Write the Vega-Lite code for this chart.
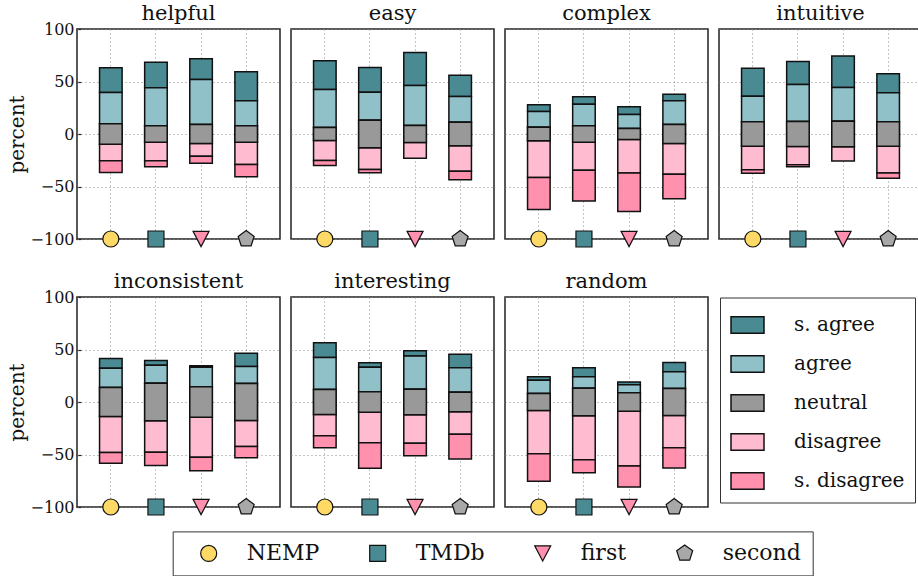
{
  "$schema": "https://vega.github.io/schema/vega-lite/v6.json",
  "padding": {"left": 7, "top": 2, "right": 0, "bottom": 0},
  "config": {
    "font": "DejaVu Serif",
    "view": {"stroke": "#222", "strokeWidth": 1.5},
    "axisY": {
      "values": [-100, -50, 0, 50, 100],
      "labelFontSize": 16, "labelColor": "#111", "labelPadding": 7,
      "ticks": true, "tickSize": -5, "tickColor": "#222", "tickWidth": 1.2,
      "domain": false, "grid": true, "gridDash": [1, 3], "gridColor": "#888",
      "titleFontSize": 20, "titleFontWeight": "normal", "titleColor": "#111", "titlePadding": 3
    },
    "axisX": {
      "labels": false, "ticks": false, "domain": false, "title": null,
      "grid": true, "gridDash": [1, 3], "gridColor": "#888", "bandPosition": 0.5
    },
    "header": {"labelFontSize": 21, "labelColor": "#111", "labelPadding": 5, "title": null}
  },
  "data": {"values": [
    {"panel":"helpful","source":"NEMP","response":"s. agree","value":23.5,"rank":2},
    {"panel":"helpful","source":"NEMP","response":"agree","value":29.8,"rank":1},
    {"panel":"helpful","source":"NEMP","response":"neutral","value":9.7,"rank":0},
    {"panel":"helpful","source":"NEMP","response":"neutral","value":-9.7,"rank":0},
    {"panel":"helpful","source":"NEMP","response":"disagree","value":-15.8,"rank":1},
    {"panel":"helpful","source":"NEMP","response":"s. disagree","value":-11.1,"rank":2},
    {"panel":"helpful","source":"TMDb","response":"s. agree","value":24.4,"rank":2},
    {"panel":"helpful","source":"TMDb","response":"agree","value":36.2,"rank":1},
    {"panel":"helpful","source":"TMDb","response":"neutral","value":7.8,"rank":0},
    {"panel":"helpful","source":"TMDb","response":"neutral","value":-7.8,"rank":0},
    {"panel":"helpful","source":"TMDb","response":"disagree","value":-17.7,"rank":1},
    {"panel":"helpful","source":"TMDb","response":"s. disagree","value":-5.7,"rank":2},
    {"panel":"helpful","source":"first","response":"s. agree","value":19.7,"rank":2},
    {"panel":"helpful","source":"first","response":"agree","value":42.8,"rank":1},
    {"panel":"helpful","source":"first","response":"neutral","value":9.05,"rank":0},
    {"panel":"helpful","source":"first","response":"neutral","value":-9.05,"rank":0},
    {"panel":"helpful","source":"first","response":"disagree","value":-12.1,"rank":1},
    {"panel":"helpful","source":"first","response":"s. disagree","value":-6.7,"rank":2},
    {"panel":"helpful","source":"second","response":"s. agree","value":27.6,"rank":2},
    {"panel":"helpful","source":"second","response":"agree","value":23.8,"rank":1},
    {"panel":"helpful","source":"second","response":"neutral","value":7.95,"rank":0},
    {"panel":"helpful","source":"second","response":"neutral","value":-7.95,"rank":0},
    {"panel":"helpful","source":"second","response":"disagree","value":-21.2,"rank":1},
    {"panel":"helpful","source":"second","response":"s. disagree","value":-11.5,"rank":2},

    {"panel":"easy","source":"NEMP","response":"s. agree","value":27.3,"rank":2},
    {"panel":"easy","source":"NEMP","response":"agree","value":36.2,"rank":1},
    {"panel":"easy","source":"NEMP","response":"neutral","value":6.15,"rank":0},
    {"panel":"easy","source":"NEMP","response":"neutral","value":-6.15,"rank":0},
    {"panel":"easy","source":"NEMP","response":"disagree","value":-19.1,"rank":1},
    {"panel":"easy","source":"NEMP","response":"s. disagree","value":-4.8,"rank":2},
    {"panel":"easy","source":"TMDb","response":"s. agree","value":23.5,"rank":2},
    {"panel":"easy","source":"TMDb","response":"agree","value":26.7,"rank":1},
    {"panel":"easy","source":"TMDb","response":"neutral","value":13.15,"rank":0},
    {"panel":"easy","source":"TMDb","response":"neutral","value":-13.15,"rank":0},
    {"panel":"easy","source":"TMDb","response":"disagree","value":-20.7,"rank":1},
    {"panel":"easy","source":"TMDb","response":"s. disagree","value":-3.1,"rank":2},
    {"panel":"easy","source":"first","response":"s. agree","value":31.5,"rank":2},
    {"panel":"easy","source":"first","response":"agree","value":38.1,"rank":1},
    {"panel":"easy","source":"first","response":"neutral","value":8.1,"rank":0},
    {"panel":"easy","source":"first","response":"neutral","value":-8.1,"rank":0},
    {"panel":"easy","source":"first","response":"disagree","value":-14.9,"rank":1},
    {"panel":"easy","source":"second","response":"s. agree","value":20.4,"rank":2},
    {"panel":"easy","source":"second","response":"agree","value":24.4,"rank":1},
    {"panel":"easy","source":"second","response":"neutral","value":11.25,"rank":0},
    {"panel":"easy","source":"second","response":"neutral","value":-11.25,"rank":0},
    {"panel":"easy","source":"second","response":"disagree","value":-24.2,"rank":1},
    {"panel":"easy","source":"second","response":"s. disagree","value":-8.2,"rank":2},

    {"panel":"complex","source":"NEMP","response":"s. agree","value":6.3,"rank":2},
    {"panel":"complex","source":"NEMP","response":"agree","value":15.0,"rank":1},
    {"panel":"complex","source":"NEMP","response":"neutral","value":6.5,"rank":0},
    {"panel":"complex","source":"NEMP","response":"neutral","value":-6.5,"rank":0},
    {"panel":"complex","source":"NEMP","response":"disagree","value":-34.9,"rank":1},
    {"panel":"complex","source":"NEMP","response":"s. disagree","value":-30.5,"rank":2},
    {"panel":"complex","source":"TMDb","response":"s. agree","value":7.3,"rank":2},
    {"panel":"complex","source":"TMDb","response":"agree","value":20.3,"rank":1},
    {"panel":"complex","source":"TMDb","response":"neutral","value":7.95,"rank":0},
    {"panel":"complex","source":"TMDb","response":"neutral","value":-7.95,"rank":0},
    {"panel":"complex","source":"TMDb","response":"disagree","value":-26.6,"rank":1},
    {"panel":"complex","source":"TMDb","response":"s. disagree","value":-29.2,"rank":2},
    {"panel":"complex","source":"first","response":"s. agree","value":7.3,"rank":2},
    {"panel":"complex","source":"first","response":"agree","value":13.3,"rank":1},
    {"panel":"complex","source":"first","response":"neutral","value":5.25,"rank":0},
    {"panel":"complex","source":"first","response":"neutral","value":-5.25,"rank":0},
    {"panel":"complex","source":"first","response":"disagree","value":-31.8,"rank":1},
    {"panel":"complex","source":"first","response":"s. disagree","value":-36.8,"rank":2},
    {"panel":"complex","source":"second","response":"s. agree","value":6.4,"rank":2},
    {"panel":"complex","source":"second","response":"agree","value":22.5,"rank":1},
    {"panel":"complex","source":"second","response":"neutral","value":9.05,"rank":0},
    {"panel":"complex","source":"second","response":"neutral","value":-9.05,"rank":0},
    {"panel":"complex","source":"second","response":"disagree","value":-29.2,"rank":1},
    {"panel":"complex","source":"second","response":"s. disagree","value":-23.5,"rank":2},

    {"panel":"intuitive","source":"NEMP","response":"s. agree","value":26.6,"rank":2},
    {"panel":"intuitive","source":"NEMP","response":"agree","value":24.5,"rank":1},
    {"panel":"intuitive","source":"NEMP","response":"neutral","value":11.55,"rank":0},
    {"panel":"intuitive","source":"NEMP","response":"neutral","value":-11.55,"rank":0},
    {"panel":"intuitive","source":"NEMP","response":"disagree","value":-22.6,"rank":1},
    {"panel":"intuitive","source":"NEMP","response":"s. disagree","value":-3.2,"rank":2},
    {"panel":"intuitive","source":"TMDb","response":"s. agree","value":21.9,"rank":2},
    {"panel":"intuitive","source":"TMDb","response":"agree","value":35.3,"rank":1},
    {"panel":"intuitive","source":"TMDb","response":"neutral","value":11.9,"rank":0},
    {"panel":"intuitive","source":"TMDb","response":"neutral","value":-11.9,"rank":0},
    {"panel":"intuitive","source":"TMDb","response":"disagree","value":-17.4,"rank":1},
    {"panel":"intuitive","source":"TMDb","response":"s. disagree","value":-1.9,"rank":2},
    {"panel":"intuitive","source":"first","response":"s. agree","value":29.9,"rank":2},
    {"panel":"intuitive","source":"first","response":"agree","value":32.1,"rank":1},
    {"panel":"intuitive","source":"first","response":"neutral","value":12.2,"rank":0},
    {"panel":"intuitive","source":"first","response":"neutral","value":-12.2,"rank":0},
    {"panel":"intuitive","source":"first","response":"disagree","value":-13.6,"rank":1},
    {"panel":"intuitive","source":"second","response":"s. agree","value":18.1,"rank":2},
    {"panel":"intuitive","source":"second","response":"agree","value":27.6,"rank":1},
    {"panel":"intuitive","source":"second","response":"neutral","value":11.75,"rank":0},
    {"panel":"intuitive","source":"second","response":"neutral","value":-11.75,"rank":0},
    {"panel":"intuitive","source":"second","response":"disagree","value":-25.4,"rank":1},
    {"panel":"intuitive","source":"second","response":"s. disagree","value":-5.0,"rank":2},

    {"panel":"inconsistent","source":"NEMP","response":"s. agree","value":9.2,"rank":2},
    {"panel":"inconsistent","source":"NEMP","response":"agree","value":18.4,"rank":1},
    {"panel":"inconsistent","source":"NEMP","response":"neutral","value":13.85,"rank":0},
    {"panel":"inconsistent","source":"NEMP","response":"neutral","value":-13.85,"rank":0},
    {"panel":"inconsistent","source":"NEMP","response":"disagree","value":-34.3,"rank":1},
    {"panel":"inconsistent","source":"NEMP","response":"s. disagree","value":-10.1,"rank":2},
    {"panel":"inconsistent","source":"TMDb","response":"s. agree","value":4.4,"rank":2},
    {"panel":"inconsistent","source":"TMDb","response":"agree","value":17.1,"rank":1},
    {"panel":"inconsistent","source":"TMDb","response":"neutral","value":17.95,"rank":0},
    {"panel":"inconsistent","source":"TMDb","response":"neutral","value":-17.95,"rank":0},
    {"panel":"inconsistent","source":"TMDb","response":"disagree","value":-29.9,"rank":1},
    {"panel":"inconsistent","source":"TMDb","response":"s. disagree","value":-12.7,"rank":2},
    {"panel":"inconsistent","source":"first","response":"s. agree","value":1.6,"rank":2},
    {"panel":"inconsistent","source":"first","response":"agree","value":18.4,"rank":1},
    {"panel":"inconsistent","source":"first","response":"neutral","value":14.6,"rank":0},
    {"panel":"inconsistent","source":"first","response":"neutral","value":-14.6,"rank":0},
    {"panel":"inconsistent","source":"first","response":"disagree","value":-38.0,"rank":1},
    {"panel":"inconsistent","source":"first","response":"s. disagree","value":-12.8,"rank":2},
    {"panel":"inconsistent","source":"second","response":"s. agree","value":12.7,"rank":2},
    {"panel":"inconsistent","source":"second","response":"agree","value":16.2,"rank":1},
    {"panel":"inconsistent","source":"second","response":"neutral","value":17.6,"rank":0},
    {"panel":"inconsistent","source":"second","response":"neutral","value":-17.6,"rank":0},
    {"panel":"inconsistent","source":"second","response":"disagree","value":-24.8,"rank":1},
    {"panel":"inconsistent","source":"second","response":"s. disagree","value":-10.8,"rank":2},

    {"panel":"interesting","source":"NEMP","response":"s. agree","value":14.0,"rank":2},
    {"panel":"interesting","source":"NEMP","response":"agree","value":30.5,"rank":1},
    {"panel":"interesting","source":"NEMP","response":"neutral","value":11.9,"rank":0},
    {"panel":"interesting","source":"NEMP","response":"neutral","value":-11.9,"rank":0},
    {"panel":"interesting","source":"NEMP","response":"disagree","value":-20.3,"rank":1},
    {"panel":"interesting","source":"NEMP","response":"s. disagree","value":-11.4,"rank":2},
    {"panel":"interesting","source":"TMDb","response":"s. agree","value":4.1,"rank":2},
    {"panel":"interesting","source":"TMDb","response":"agree","value":23.5,"rank":1},
    {"panel":"interesting","source":"TMDb","response":"neutral","value":9.7,"rank":0},
    {"panel":"interesting","source":"TMDb","response":"neutral","value":-9.7,"rank":0},
    {"panel":"interesting","source":"TMDb","response":"disagree","value":-29.2,"rank":1},
    {"panel":"interesting","source":"TMDb","response":"s. disagree","value":-24.1,"rank":2},
    {"panel":"interesting","source":"first","response":"s. agree","value":5.1,"rank":2},
    {"panel":"interesting","source":"first","response":"agree","value":31.5,"rank":1},
    {"panel":"interesting","source":"first","response":"neutral","value":12.2,"rank":0},
    {"panel":"interesting","source":"first","response":"neutral","value":-12.2,"rank":0},
    {"panel":"interesting","source":"first","response":"disagree","value":-27.0,"rank":1},
    {"panel":"interesting","source":"first","response":"s. disagree","value":-12.0,"rank":2},
    {"panel":"interesting","source":"second","response":"s. agree","value":12.7,"rank":2},
    {"panel":"interesting","source":"second","response":"agree","value":23.5,"rank":1},
    {"panel":"interesting","source":"second","response":"neutral","value":9.2,"rank":0},
    {"panel":"interesting","source":"second","response":"neutral","value":-9.2,"rank":0},
    {"panel":"interesting","source":"second","response":"disagree","value":-21.6,"rank":1},
    {"panel":"interesting","source":"second","response":"s. disagree","value":-23.5,"rank":2},

    {"panel":"random","source":"NEMP","response":"s. agree","value":3.2,"rank":2},
    {"panel":"random","source":"NEMP","response":"agree","value":12.7,"rank":1},
    {"panel":"random","source":"NEMP","response":"neutral","value":8.1,"rank":0},
    {"panel":"random","source":"NEMP","response":"neutral","value":-8.1,"rank":0},
    {"panel":"random","source":"NEMP","response":"disagree","value":-41.2,"rank":1},
    {"panel":"random","source":"NEMP","response":"s. disagree","value":-26.1,"rank":2},
    {"panel":"random","source":"TMDb","response":"s. agree","value":8.6,"rank":2},
    {"panel":"random","source":"TMDb","response":"agree","value":11.1,"rank":1},
    {"panel":"random","source":"TMDb","response":"neutral","value":13.0,"rank":0},
    {"panel":"random","source":"TMDb","response":"neutral","value":-13.0,"rank":0},
    {"panel":"random","source":"TMDb","response":"disagree","value":-41.9,"rank":1},
    {"panel":"random","source":"TMDb","response":"s. disagree","value":-12.4,"rank":2},
    {"panel":"random","source":"first","response":"s. agree","value":2.8,"rank":2},
    {"panel":"random","source":"first","response":"agree","value":7.6,"rank":1},
    {"panel":"random","source":"first","response":"neutral","value":8.75,"rank":0},
    {"panel":"random","source":"first","response":"neutral","value":-8.75,"rank":0},
    {"panel":"random","source":"first","response":"disagree","value":-52.1,"rank":1},
    {"panel":"random","source":"first","response":"s. disagree","value":-20.0,"rank":2},
    {"panel":"random","source":"second","response":"s. agree","value":8.8,"rank":2},
    {"panel":"random","source":"second","response":"agree","value":15.9,"rank":1},
    {"panel":"random","source":"second","response":"neutral","value":12.85,"rank":0},
    {"panel":"random","source":"second","response":"neutral","value":-12.85,"rank":0},
    {"panel":"random","source":"second","response":"disagree","value":-30.8,"rank":1},
    {"panel":"random","source":"second","response":"s. disagree","value":-19.1,"rank":2}
  ]},
  "facet": {
    "field": "panel", "type": "nominal", "title": null,
    "sort": ["helpful", "easy", "complex", "intuitive", "inconsistent", "interesting", "random"]
  },
  "columns": 4,
  "spacing": {"row": 19, "column": 9},
  "spec": {
    "width": 203,
    "height": 210,
    "encoding": {
      "x": {"field": "source", "type": "nominal", "sort": ["NEMP", "TMDb", "first", "second"],
            "scale": {"paddingInner": 0.5, "paddingOuter": 0.5}}
    },
    "layer": [
      {
        "mark": {"type": "bar", "stroke": "#111", "strokeWidth": 1.5},
        "encoding": {
          "y": {"field": "value", "type": "quantitative", "stack": "zero",
                "scale": {"domain": [-100, 100], "nice": false}, "title": "percent"},
          "color": {"field": "response", "type": "nominal",
            "scale": {"domain": ["s. agree", "agree", "neutral", "disagree", "s. disagree"],
                      "range": ["#4a8a93", "#90c1c8", "#999999", "#ffbbcf", "#ff91ae"]},
            "legend": {"orient": "none", "legendX": 643, "legendY": 268.5, "title": null,
                       "direction": "vertical",
                       "symbolType": "M-1,-0.5H1V0.5H-1Z", "symbolSize": 1089,
                       "symbolStrokeColor": "#111", "symbolStrokeWidth": 1.5, "symbolOpacity": 1,
                       "labelFontSize": 20, "labelColor": "#111", "labelOffset": 29,
                       "rowPadding": 10, "padding": 10,
                       "strokeColor": "#333", "fillColor": "white"}},
          "order": {"field": "rank", "type": "quantitative", "sort": "ascending"}
        }
      },
      {
        "transform": [{"filter": {"field": "response", "equal": "neutral"}}],
        "mark": {"type": "bar", "fill": "#999999", "stroke": "#111", "strokeWidth": 1.5},
        "encoding": {
          "y": {"aggregate": "min", "field": "value", "type": "quantitative", "title": "percent"},
          "y2": {"aggregate": "max", "field": "value"}
        }
      },
      {
        "transform": [{"filter": {"field": "response", "equal": "s. agree"}}],
        "mark": {"type": "point", "filled": true, "stroke": "#111", "strokeWidth": 1.2, "size": 256, "opacity": 1},
        "encoding": {
          "y": {"datum": -100, "type": "quantitative", "title": "percent"},
          "fill": {"field": "source", "type": "nominal",
            "scale": {"domain": ["NEMP", "TMDb", "first", "second"],
                      "range": ["#ffd966", "#4a8a93", "#ff91ae", "#a8a8a8"]},
            "legend": {"orient": "none", "legendX": 95.7, "legendY": 502.4, "title": null,
                       "direction": "horizontal", "gridAlign": "each", "columnPadding": 33,
                       "symbolSize": 256, "symbolOffset": 14, "symbolStrokeColor": "#111", "symbolStrokeWidth": 1.2, "symbolOpacity": 1,
                       "labelFontSize": 22, "labelColor": "#111", "labelOffset": 27,
                       "padding": 11, "strokeColor": "#333", "fillColor": "white",
                       "encode": {"symbols": {"update": {"stroke": {"value": "#111"}, "strokeWidth": {"value": 1.2}}}}}},
          "shape": {"field": "source", "type": "nominal",
            "scale": {"domain": ["NEMP", "TMDb", "first", "second"],
                      "range": ["circle", "square", "M-1,-0.95L1,-0.95L0,0.95Z",
                                "M0,-1.05L1,-0.325L0.618,0.85L-0.618,0.85L-1,-0.325Z"]},
            "legend": {"orient": "none", "legendX": 95.7, "legendY": 502.4, "title": null,
                       "direction": "horizontal", "gridAlign": "each", "columnPadding": 33,
                       "symbolSize": 256, "symbolOffset": 14, "symbolStrokeColor": "#111", "symbolStrokeWidth": 1.2, "symbolOpacity": 1,
                       "labelFontSize": 22, "labelColor": "#111", "labelOffset": 27,
                       "padding": 11, "strokeColor": "#333", "fillColor": "white",
                       "encode": {"symbols": {"update": {"stroke": {"value": "#111"}, "strokeWidth": {"value": 1.2}}}}}}
        }
      }
    ]
  }
}
